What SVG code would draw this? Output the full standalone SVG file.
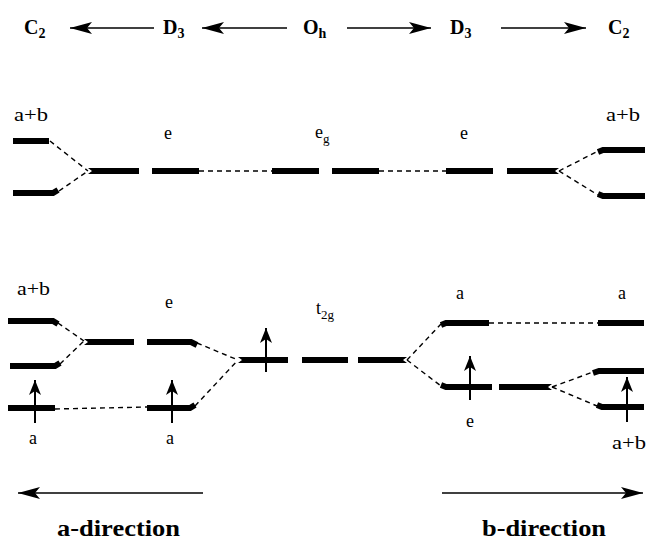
<svg xmlns="http://www.w3.org/2000/svg" width="648" height="541" viewBox="0 0 648 541">
<defs>
<marker id="big" viewBox="0 0 22 12" refX="22" refY="6" markerWidth="22" markerHeight="12" orient="auto" markerUnits="userSpaceOnUse"><path d="M0,0 L22,6 L0,12 L5,6 Z" fill="#000"/></marker>
<marker id="spin" viewBox="0 0 15 12" refX="15" refY="6" markerWidth="15" markerHeight="12" orient="auto" markerUnits="userSpaceOnUse"><path d="M0,0 L15,6 L0,12 L4,6 Z" fill="#000"/></marker>
<style>
.hd{font-family:"Liberation Serif","Times New Roman",serif;font-weight:bold;font-size:20px;fill:#000}
.sb{font-size:14px}
.lb{font-family:"Liberation Serif","Times New Roman",serif;font-size:18px;fill:#000}
.ls{font-size:13px}
.dir{font-family:"Liberation Serif","Times New Roman",serif;font-weight:bold;font-size:24px;fill:#000}
.lvl{fill:none;stroke:#000;stroke-width:6;stroke-linejoin:miter;stroke-linecap:butt}
.lvp{fill:#000}
.ds{fill:none;stroke:#000;stroke-width:1.4;stroke-dasharray:5,4}
.ar{fill:none;stroke:#000;stroke-width:1.6;marker-end:url(#big)}
.sp{fill:none;stroke:#000;stroke-width:2;marker-end:url(#spin)}
</style>
</defs>
<rect width="648" height="541" fill="#fff"/>

<g id="header">
<text class="hd" x="24" y="34">C<tspan class="sb" dy="4">2</tspan></text>
<text class="hd" x="163" y="34">D<tspan class="sb" dy="4">3</tspan></text>
<text class="hd" x="303" y="34">O<tspan class="sb" dy="4">h</tspan></text>
<text class="hd" x="450" y="34">D<tspan class="sb" dy="4">3</tspan></text>
<text class="hd" x="608" y="34">C<tspan class="sb" dy="4">2</tspan></text>
</g>

<g id="connectors">
<line class="ar" x1="154" y1="28" x2="70" y2="28"/>
<line class="ar" x1="287" y1="28" x2="202" y2="28"/>
<line class="ar" x1="347" y1="28" x2="431" y2="28"/>
<line class="ar" x1="501" y1="28" x2="586" y2="28"/>
<line class="ar" x1="203" y1="493" x2="18" y2="493"/>
<line class="ar" x1="442" y1="493" x2="643" y2="493"/>
<!-- upper dashed -->
<line class="ds" x1="50" y1="141" x2="88" y2="171"/>
<line class="ds" x1="59" y1="191" x2="88" y2="171"/>
<line class="ds" x1="199" y1="171" x2="272" y2="171"/>
<line class="ds" x1="379" y1="171" x2="446" y2="171"/>
<line class="ds" x1="559" y1="171" x2="598" y2="151"/>
<line class="ds" x1="559" y1="171" x2="598" y2="195"/>
<!-- lower dashed -->
<line class="ds" x1="58" y1="323" x2="84" y2="341"/>
<line class="ds" x1="60" y1="364" x2="84" y2="341"/>
<line class="ds" x1="55" y1="409" x2="147" y2="407"/>
<line class="ds" x1="197" y1="343" x2="238" y2="360"/>
<line class="ds" x1="195" y1="406" x2="238" y2="360"/>
<line class="ds" x1="407" y1="360" x2="441" y2="324"/>
<line class="ds" x1="407" y1="360" x2="441" y2="386"/>
<line class="ds" x1="489" y1="323" x2="598" y2="323"/>
<line class="ds" x1="552" y1="387" x2="593" y2="372"/>
<line class="ds" x1="552" y1="387" x2="597" y2="406"/>
</g>

<g id="c2-left-upper">
<text class="lb" x="14" y="121" textLength="34" lengthAdjust="spacingAndGlyphs">a+b</text>
<polyline class="lvl" points="13,141 49,141"/>
<polyline class="lvl" points="13,193 53,193 58,190"/>
</g>
<g id="d3-left-upper">
<text class="lb" x="164" y="139">e</text>
<polygon class="lvp" points="88,168 139,168 139,174 88,174 92,171"/>
<rect class="lvp" x="152" y="168" width="47" height="6"/>
</g>
<g id="oh-upper">
<text class="lb" x="315" y="138">e<tspan class="ls" dy="5">g</tspan></text>
<rect class="lvp" x="272" y="168" width="47" height="6"/>
<rect class="lvp" x="332" y="168" width="47" height="6"/>
</g>
<g id="d3-right-upper">
<text class="lb" x="460" y="139">e</text>
<rect class="lvp" x="446" y="168" width="47" height="6"/>
<polygon class="lvp" points="507,168 559,168 555,171 559,174 507,174"/>
</g>
<g id="c2-right-upper">
<text class="lb" x="606" y="121" textLength="34" lengthAdjust="spacingAndGlyphs">a+b</text>
<polyline class="lvl" points="598,152 603,150 645,150"/>
<polyline class="lvl" points="598,194 603,196 645,196"/>
</g>

<g id="c2-left-lower">
<text class="lb" x="17" y="295" textLength="33" lengthAdjust="spacingAndGlyphs">a+b</text>
<polyline class="lvl" points="8,321 53,321 58,324"/>
<polyline class="lvl" points="10,366 55,366 60,363"/>
<polyline class="lvl" points="8,408 55,408"/>
<line class="sp" x1="35" y1="423" x2="35" y2="380"/>
<text class="lb" x="29" y="444">a</text>
</g>
<g id="d3-left-lower">
<text class="lb" x="165" y="308">e</text>
<polygon class="lvp" points="84,339 134,339 134,345 84,345 88,342"/>
<polyline class="lvl" points="147,342 191,342 197,345"/>
<polyline class="lvl" points="147,408 190,408 195,405"/>
<line class="sp" x1="172" y1="423" x2="172" y2="380"/>
<text class="lb" x="166" y="444">a</text>
</g>
<g id="oh-lower">
<text class="lb" x="316" y="314">t<tspan class="ls" dy="5">2g</tspan></text>
<polygon class="lvp" points="238,357 288,357 288,363 238,363 242,360"/>
<rect class="lvp" x="302" y="357" width="46" height="6"/>
<polygon class="lvp" points="358,357 407,357 403,360 407,363 358,363"/>
<line class="sp" x1="266" y1="372" x2="266" y2="328"/>
</g>
<g id="d3-right-lower">
<text class="lb" x="456" y="299">a</text>
<polyline class="lvl" points="441,325 446,323 489,323"/>
<polyline class="lvl" points="441,385 446,387 492,387"/>
<polygon class="lvp" points="499,384 552,384 548,387 552,390 499,390"/>
<line class="sp" x1="470" y1="400" x2="470" y2="356"/>
<text class="lb" x="466" y="427">e</text>
</g>
<g id="c2-right-lower">
<text class="lb" x="618" y="299">a</text>
<polyline class="lvl" points="598,323 644,323"/>
<polyline class="lvl" points="593,373 599,371 644,371"/>
<polyline class="lvl" points="597,405 602,407 644,407"/>
<line class="sp" x1="627" y1="422" x2="627" y2="377"/>
<text class="lb" x="612" y="449" textLength="34" lengthAdjust="spacingAndGlyphs">a+b</text>
</g>

<g id="footer">
<text class="dir" x="57" y="536" textLength="123" lengthAdjust="spacingAndGlyphs">a-direction</text>
<text class="dir" x="482" y="536" textLength="124" lengthAdjust="spacingAndGlyphs">b-direction</text>
</g>
</svg>
